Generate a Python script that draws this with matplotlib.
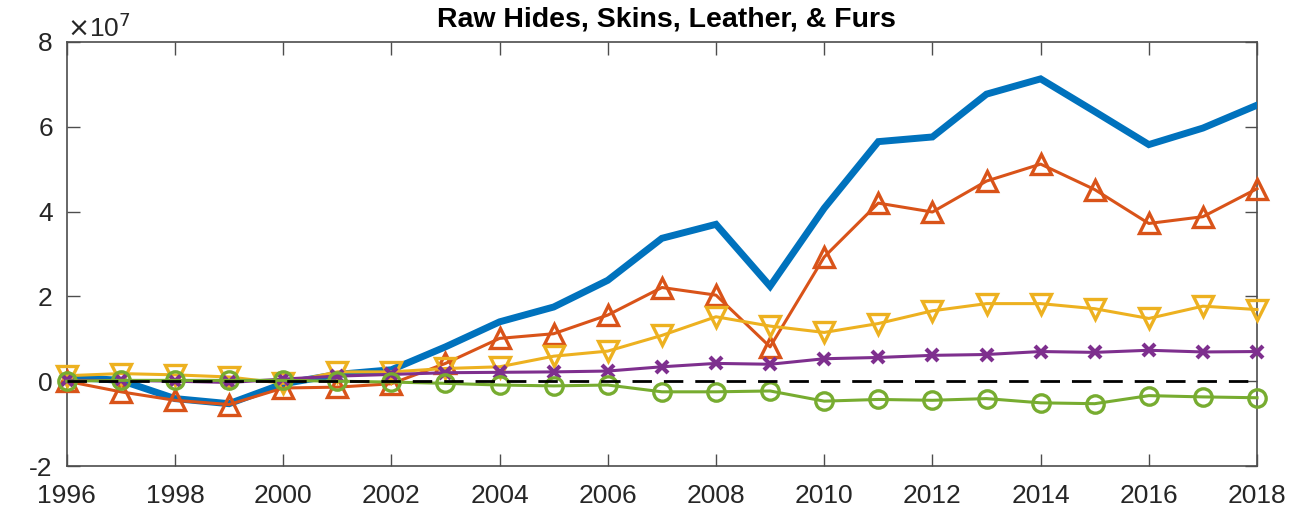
import matplotlib
matplotlib.use("Agg")
import matplotlib.pyplot as plt
from matplotlib.transforms import offset_copy
import numpy as np

plt.rcParams['font.family'] = ['Liberation Sans', 'DejaVu Sans']

years = list(range(1996, 2019))
scale = 1e7
# values in units of 1e7
total = [0.10, 0.02, -0.41, -0.53, -0.06, 0.16, 0.27, 0.81, 1.40, 1.75, 2.38, 3.37, 3.70,
         2.24, 4.08, 5.65, 5.76, 6.77, 7.13, 6.36, 5.58, 5.97, 6.51]
orange = [0.00, -0.25, -0.45, -0.55, -0.16, -0.14, -0.06, 0.42, 1.01, 1.12, 1.56, 2.21, 2.03,
          0.81, 2.93, 4.20, 3.99, 4.72, 5.12, 4.52, 3.72, 3.88, 4.54]
yellow = [0.13, 0.18, 0.15, 0.10, -0.05, 0.22, 0.22, 0.30, 0.34, 0.59, 0.71, 1.08, 1.52,
          1.30, 1.15, 1.36, 1.66, 1.83, 1.83, 1.71, 1.48, 1.77, 1.69]
purple = [0.02, 0.02, 0.00, -0.03, 0.05, 0.12, 0.16, 0.20, 0.21, 0.22, 0.24, 0.34, 0.42,
          0.40, 0.53, 0.56, 0.61, 0.63, 0.70, 0.68, 0.73, 0.69, 0.70]
green = [0.00, 0.02, 0.02, 0.02, 0.02, 0.00, -0.02, -0.05, -0.09, -0.11, -0.09, -0.25, -0.25,
         -0.23, -0.47, -0.43, -0.45, -0.41, -0.51, -0.53, -0.34, -0.37, -0.39]

yticks = [-2, 0, 2, 4, 6, 8]
xticks = list(range(1996, 2019, 2))
title = "Raw Hides, Skins, Leather, & Furs"

fig = plt.figure(figsize=(13.01, 5.12), dpi=100)
ax = fig.add_axes([0.0513, 0.0898, 0.9149, 0.8282])

def s(v):
    return np.array(v) * scale

ax.plot(years, s(total), color='#0072BD', lw=5.0, solid_joinstyle='miter', zorder=2)
ax.plot(years, s(orange), color='#D95319', lw=2.2, marker='^', ms=14.5, mfc='none', mew=2.4,
        zorder=3, clip_on=False)
ax.plot(years, s(yellow), color='#EDB120', lw=2.2, marker='v', ms=14.5, mfc='none', mew=2.4,
        zorder=4, clip_on=False)
ax.plot(years, s(purple), color='#7E2F8E', lw=2.2, marker='x', ms=8, mew=3, zorder=5,
        clip_on=False)
ax.plot(years, s(green), color='#77AC30', lw=2.2, marker='o', ms=12.5, mfc='none', mew=2.4,
        zorder=6, clip_on=False)
ax.plot([1996, 2018], [0, 0], color='black', lw=2.0, ls=(0, (7, 4.3)), zorder=7)

ax.set_xlim(1996, 2018)
ax.set_ylim(-2 * scale, 8 * scale)
ax.set_xticks(xticks)
ax.set_xticklabels([str(x) for x in xticks])
ax.set_yticks([t * scale for t in yticks])
ax.set_yticklabels([str(t) for t in yticks])

for sp in ax.spines.values():
    sp.set_color('#4D4D4D')
    sp.set_linewidth(1.2)
    sp.set_zorder(1)
ax.tick_params(direction='in', length=9, width=1.0, color='#4D4D4D',
               top=True, right=True, labelsize=19, labelcolor='#262626')
ax.tick_params(axis='x', pad=13)
ax.tick_params(axis='y', pad=10)

title_trans = offset_copy(ax.transAxes, fig=fig, x=0, y=15, units='dots')
ax.text(0.504, 1.0, title, transform=title_trans, fontsize=20.5, fontweight='bold',
        color='black', ha='center', va='baseline')
trans = offset_copy(ax.transAxes, fig=fig, x=0, y=5, units='dots')
ax.text(0.0, 1.0, r'$\times$10$^{7}$', transform=trans, fontsize=19,
        color='#262626', ha='left', va='baseline')

fig.savefig('out.png', dpi=100)
